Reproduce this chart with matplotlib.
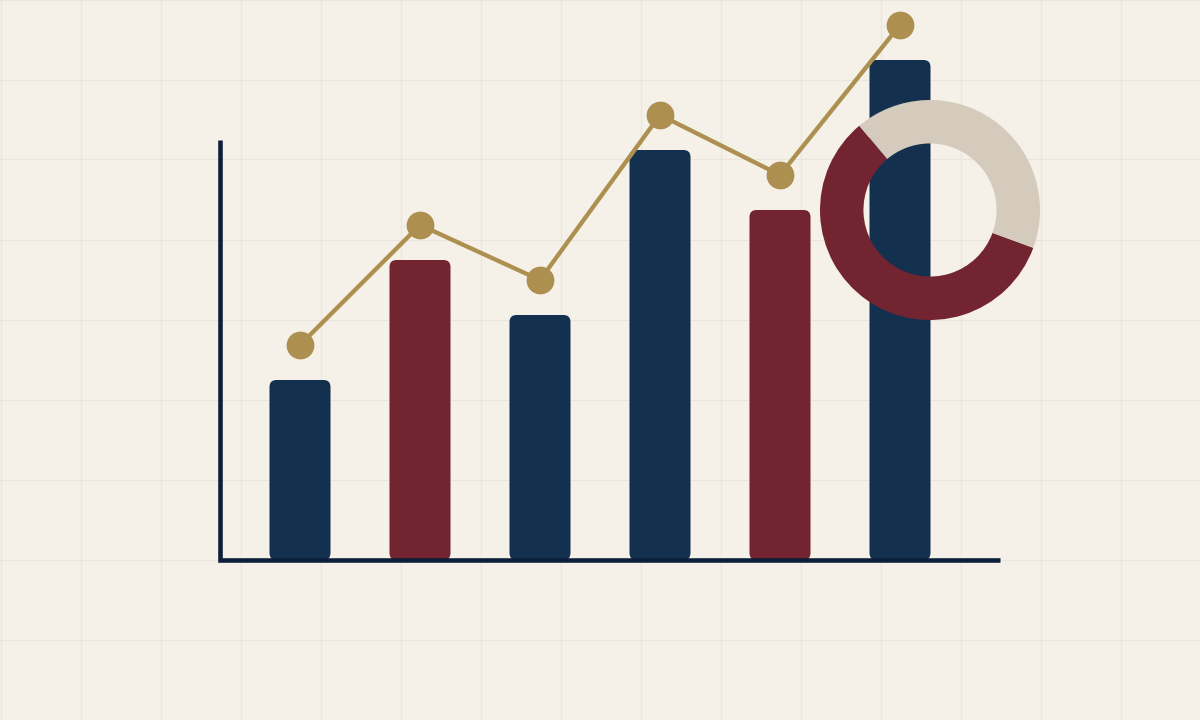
import matplotlib
matplotlib.use("Agg")
import matplotlib.pyplot as plt
from matplotlib.patches import FancyBboxPatch
import numpy as np

# ---- data ----
categories = ["A", "B", "C", "D", "E", "F"]
bar_values = [3.6, 6.0, 4.9, 8.2, 7.0, 10.0]
line_values = [4.3, 6.7, 5.6, 8.9, 7.7, 10.7]
bar_colors = ["#14304f", "#722530", "#14304f", "#14304f", "#722530", "#14304f"]
donut_shares = [58.3, 41.7]
donut_colors = ["#722530", "#d4cbbd"]

BG = "#f5f0e8"
GRID = "#ebe5dd"
AXIS = "#0b1e3a"
GOLD = "#ad9050"

W, H, DPI = 1200, 720, 100
fig = plt.figure(figsize=(W / DPI, H / DPI), dpi=DPI, facecolor=BG)
ax = fig.add_axes([0, 0, 1, 1])
ax.set_facecolor(BG)

# scales: 120 px per category, 50 px per value unit
px_x = 120.0
px_y = 50.0
x0 = -300.0 / px_x            # left edge of figure in data units
ax.set_xlim(x0, x0 + W / px_x)
ybot = -(H - 560.0) / px_y
ax.set_ylim(ybot, ybot + H / px_y)

# background grid every 80 px
gx = x0 + (np.arange(0, W + 1, 80) + 0.5) / px_x
gy = ybot + (np.arange(0, H + 1, 80) + 0.5) / px_y
for v in gx:
    ax.axvline(v, color=GRID, lw=0.75, zorder=0)
for v in gy:
    ax.axhline(v, color=GRID, lw=0.75, zorder=0)

xs = np.arange(len(categories))
bar_w = 61 / px_x
r = 7 / px_x
aspect = (1 / px_y) / (1 / px_x)
for xi, val, c in zip(xs, bar_values, bar_colors):
    p = FancyBboxPatch((xi - bar_w / 2, 0), bar_w, val,
                       boxstyle=f"round,pad=0,rounding_size={r}",
                       mutation_aspect=aspect, fc=c, ec="none", zorder=2)
    ax.add_patch(p)

# axes lines (L shape)
ax_left = xs[0] - 80 / px_x
ax_right = xs[-1] + 100 / px_x
ax_top = 420 / px_y
ax.plot([ax_left, ax_left, ax_right], [ax_top, 0, 0], color=AXIS,
        lw=3.3, solid_joinstyle="miter", solid_capstyle="butt", zorder=3)

# trend line
ax.plot(xs, line_values, color=GOLD, lw=3.1, marker="o", ms=19,
        mec=GOLD, mfc=GOLD, zorder=4)

ax.axis("off")

# donut
cx, cy, R = 930, 210, 110
dax = fig.add_axes([(cx - R) / W, 1 - (cy + R) / H, 2 * R / W, 2 * R / H])
dax.pie(donut_shares, colors=donut_colors, startangle=130, counterclock=True,
        radius=1, wedgeprops=dict(width=0.395, edgecolor="none"))
dax.set_xlim(-1, 1)
dax.set_ylim(-1, 1)
dax.set_aspect("equal")
dax.axis("off")
dax.patch.set_alpha(0)

fig.savefig("out.png", dpi=DPI, facecolor=BG)
